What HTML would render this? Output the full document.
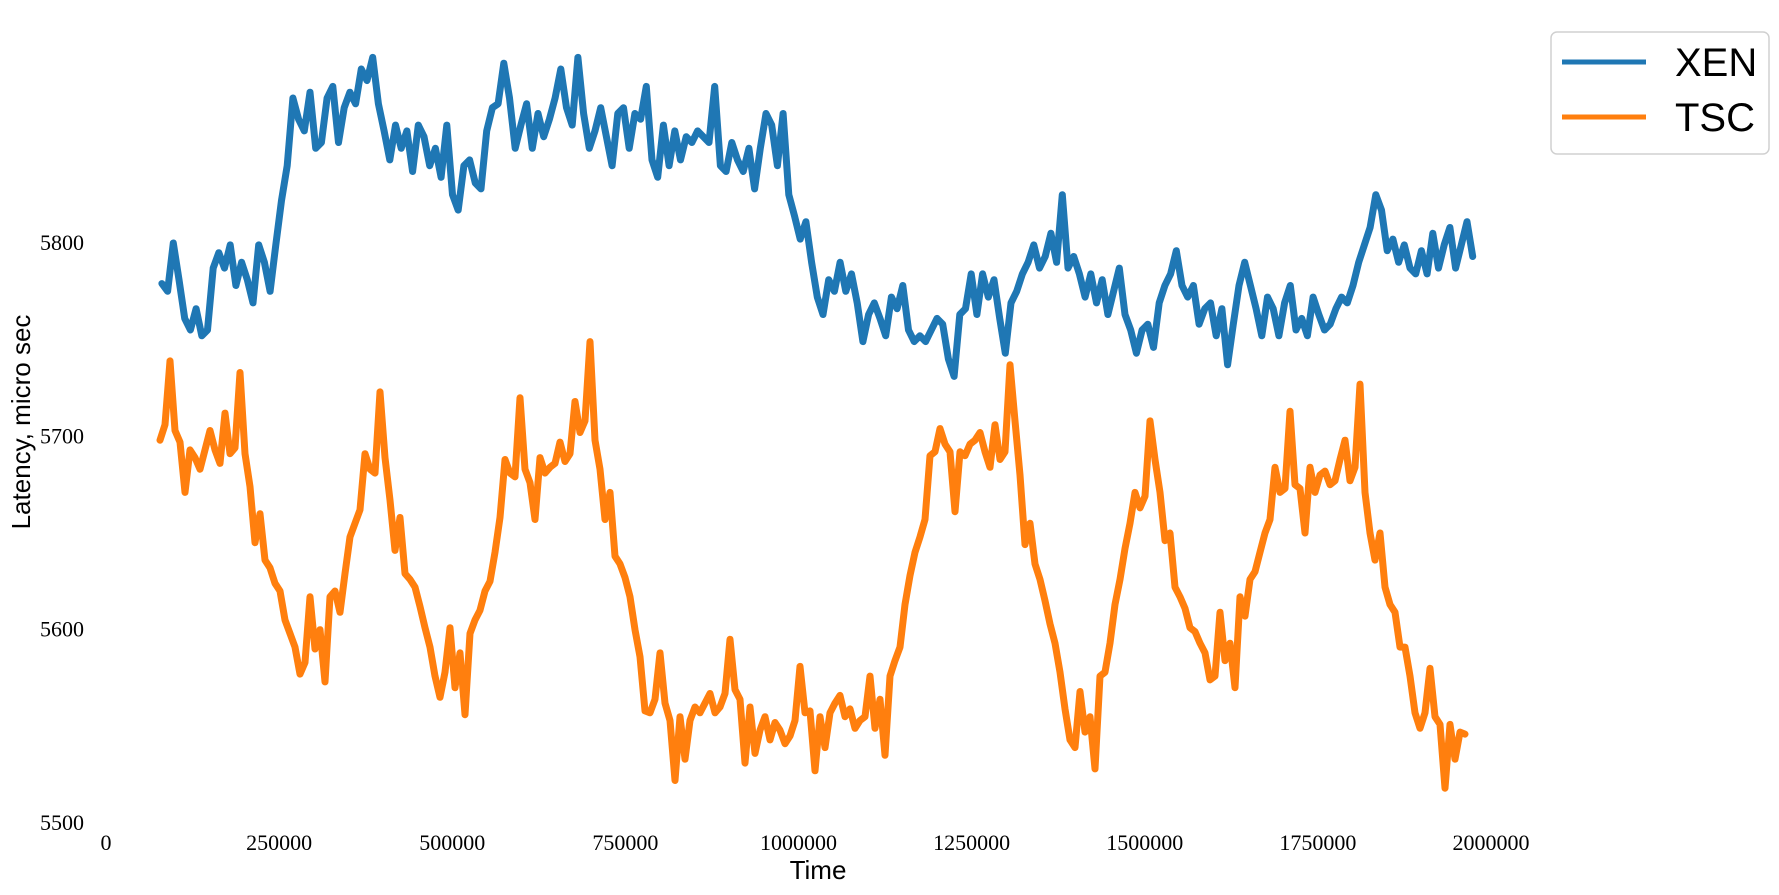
<!DOCTYPE html>
<html><head><meta charset="utf-8"><style>
html,body{margin:0;padding:0;background:#fff;}
svg{display:block;}
</style></head><body>
<svg id="chart" width="1779" height="895" xmlns="http://www.w3.org/2000/svg">
<g id="plot"></g>
<g id="axes"></g>
<text x="23" y="422" transform="rotate(-90 23 422)" text-anchor="middle" dominant-baseline="middle" font-family="Liberation Sans, sans-serif" font-size="26">Latency, micro sec</text>
<text x="818" y="879" text-anchor="middle" font-family="Liberation Sans, sans-serif" font-size="26">Time</text>
<g>
<rect x="1551" y="32" width="218" height="122" rx="6" fill="#fff" stroke="#d0d0d0" stroke-width="1.5"/>
<g>
<line x1="1562" y1="62" x2="1646" y2="62" stroke="#1f77b4" stroke-width="5"/>
<text x="1675" y="76" font-family="Liberation Sans, sans-serif" font-size="40">XEN</text>
</g>
<g>
<line x1="1562" y1="117" x2="1646" y2="117" stroke="#ff7f0e" stroke-width="5"/>
<text x="1675" y="131" font-family="Liberation Sans, sans-serif" font-size="40">TSC</text>
</g>
</g>
</svg>
<script>
const xTicks = [0,250000,500000,750000,1000000,1250000,1500000,1750000,2000000];
const yTicks = [5500,5600,5700,5800];
const xenStart = 80660, xenStep = 8230;
const xenValues = [5779,5775,5800,5781,5761,5755,5766,5752,5755,5787,5795,5787,5799,5778,5790,5781,5769,5799,5790,5775,5799,5822,5840,5875,5864,5858,5878,5849,5852,5875,5881,5852,5870,5878,5872,5890,5884,5896,5872,5858,5843,5861,5849,5858,5837,5861,5855,5840,5849,5834,5861,5825,5817,5840,5843,5831,5828,5858,5870,5872,5893,5875,5849,5861,5872,5849,5867,5855,5864,5875,5890,5870,5861,5896,5867,5849,5858,5870,5855,5840,5867,5870,5849,5867,5864,5881,5843,5834,5861,5840,5858,5843,5855,5852,5858,5855,5852,5881,5840,5837,5852,5843,5837,5849,5828,5849,5867,5861,5840,5867,5825,5814,5802,5811,5790,5772,5763,5781,5775,5790,5775,5784,5769,5749,5763,5769,5761,5752,5772,5766,5778,5755,5749,5752,5749,5755,5761,5758,5740,5731,5763,5766,5784,5763,5784,5772,5781,5761,5743,5769,5775,5784,5790,5799,5787,5793,5805,5790,5825,5787,5793,5784,5772,5784,5769,5781,5763,5775,5787,5763,5755,5743,5755,5758,5746,5769,5778,5784,5796,5778,5772,5778,5758,5766,5769,5752,5766,5737,5758,5778,5790,5778,5766,5752,5772,5766,5752,5769,5778,5755,5761,5752,5772,5763,5755,5758,5766,5772,5769,5778,5790,5799,5808,5825,5817,5796,5802,5790,5799,5787,5784,5796,5784,5805,5787,5799,5808,5787,5799,5811,5793];
const tscStart = 77980, tscStep = 7220;
const tscValues = [5698,5706,5739,5703,5697,5671,5693,5689,5683,5693,5703,5693,5686,5712,5691,5694,5733,5691,5674,5645,5660,5636,5632,5624,5620,5605,5598,5591,5577,5583,5617,5590,5600,5573,5617,5620,5609,5629,5648,5655,5662,5691,5683,5681,5723,5689,5667,5641,5658,5629,5626,5622,5612,5601,5591,5576,5565,5578,5601,5570,5588,5556,5598,5605,5610,5620,5625,5640,5658,5688,5681,5679,5720,5683,5676,5657,5689,5681,5684,5686,5697,5687,5691,5718,5702,5708,5749,5698,5683,5657,5671,5638,5634,5627,5617,5600,5586,5558,5557,5564,5588,5562,5553,5522,5555,5533,5553,5560,5557,5562,5567,5557,5560,5567,5595,5569,5564,5531,5560,5536,5548,5555,5543,5552,5548,5541,5545,5553,5581,5557,5558,5527,5555,5539,5557,5562,5566,5555,5559,5549,5553,5555,5576,5549,5564,5535,5576,5584,5591,5613,5628,5640,5648,5657,5690,5692,5704,5696,5692,5661,5692,5690,5696,5698,5702,5692,5684,5706,5688,5692,5737,5708,5680,5644,5655,5634,5626,5615,5603,5593,5578,5559,5543,5539,5568,5547,5555,5528,5576,5578,5593,5613,5626,5642,5655,5671,5663,5669,5708,5688,5671,5646,5650,5622,5617,5611,5601,5599,5593,5588,5574,5576,5609,5584,5593,5570,5617,5607,5626,5630,5640,5650,5657,5684,5671,5673,5713,5675,5673,5650,5684,5671,5680,5682,5675,5677,5688,5698,5677,5684,5727,5671,5650,5636,5650,5622,5613,5609,5591,5591,5576,5557,5549,5557,5580,5555,5551,5518,5551,5533,5547,5546];

const NS = 'http://www.w3.org/2000/svg';
function xScale(t){ return 106 + t * 692.5e-6; }
function yScale(v){ return 823 - (v - 5500) * 1.9333; }

const axes = document.getElementById('axes');
xTicks.forEach(function(t){
  const el = document.createElementNS(NS,'text');
  
  
  el.setAttribute('x', xScale(t));
  el.setAttribute('y', 850);
  el.setAttribute('text-anchor','middle');
  el.setAttribute('font-family','Liberation Serif, serif');
  el.setAttribute('font-size','22');
  el.textContent = String(t);
  axes.appendChild(el);
});
yTicks.forEach(function(v){
  const el = document.createElementNS(NS,'text');
  
  
  el.setAttribute('x', 84);
  el.setAttribute('y', yScale(v) + 7);
  el.setAttribute('text-anchor','end');
  el.setAttribute('font-family','Liberation Serif, serif');
  el.setAttribute('font-size','22');
  el.textContent = String(v);
  axes.appendChild(el);
});

const plot = document.getElementById('plot');
function drawSeries(values, start, step, color, name){
  let d = '';
  values.forEach(function(v,i){
    d += (i ? 'L' : 'M') + xScale(start + i*step).toFixed(1) + ' ' + yScale(v).toFixed(1);
  });
  const p = document.createElementNS(NS,'path');
  
  
  p.setAttribute('d', d);
  p.setAttribute('fill','none');
  p.setAttribute('stroke', color);
  p.setAttribute('stroke-width','7');
  p.setAttribute('stroke-linejoin','round');
  p.setAttribute('stroke-linecap','round');
  plot.appendChild(p);
}
drawSeries(xenValues, xenStart, xenStep, '#1f77b4', 'xen-line');
drawSeries(tscValues, tscStart, tscStep, '#ff7f0e', 'tsc-line');
</script>
</body></html>
